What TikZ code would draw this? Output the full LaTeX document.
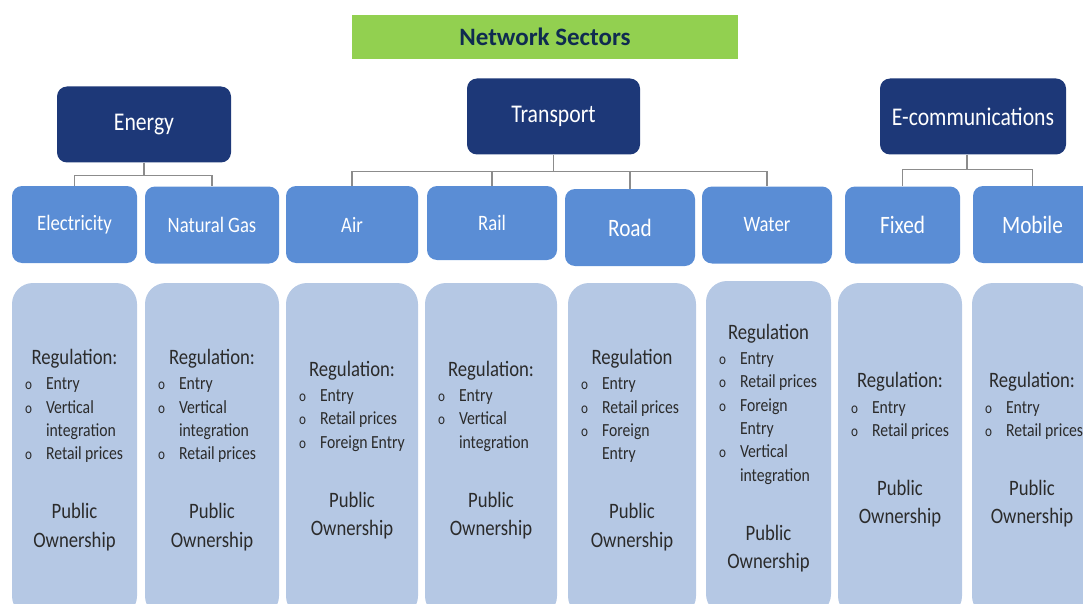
\documentclass[tikz,border=0pt]{standalone}
\usepackage{fontspec}
\usepackage{xcolor}
\setmainfont{Carlito}
\newfontfamily\tallfont[FakeStretch=0.85]{Carlito}
\usetikzlibrary{calc}
\definecolor{navy}{HTML}{1D3878}
\definecolor{midblue}{HTML}{5A8DD5}
\definecolor{paleblue}{HTML}{B5C8E4}
\definecolor{leafgreen}{HTML}{92D050}
\definecolor{linkgray}{HTML}{8C8C8C}
\definecolor{inkgray}{HTML}{2B2B2B}
\definecolor{titleink}{HTML}{0F2B50}
\tikzstyle{banner}=[fill=leafgreen,minimum width=386pt,minimum height=44pt,text=titleink,font=\fontsize{25}{30}\selectfont\bfseries]
\tikzstyle{sector}=[fill=navy,rounded corners=10pt,minimum height=76pt,text=white,font=\tallfont\fontsize{25.5}{30}\selectfont]
\tikzstyle{branch}=[fill=midblue,rounded corners=10pt,minimum height=77pt,text=white,font=\tallfont\fontsize{22}{26}\selectfont]
\tikzstyle{detail}=[fill=paleblue,rounded corners=21pt,minimum height=334pt,inner sep=0pt,align=left,text=inkgray]
\tikzstyle{link}=[draw=linkgray,line width=1.4pt]
\newcommand{\reghead}[1]{{\tallfont\fontsize{22}{26}\selectfont\centering #1\par}\vspace{2pt}}
\newcommand{\regitem}[1]{{\tallfont\fontsize{18.5}{23.3}\selectfont\noindent\makebox[26pt][l]{\hspace{5pt}{\fontsize{15.5}{15.5}\selectfont o}}#1\par}}
\newcommand{\regmore}[1]{{\tallfont\fontsize{18.5}{23.3}\selectfont\noindent\hspace*{26pt}#1\par}}
\newcommand{\pubown}{\vspace{30.5pt}{\tallfont\fontsize{22}{28.5}\selectfont\centering Public\\Ownership\par}}

\begin{document}
\begin{tikzpicture}[x=1pt,y=-1pt]
    \useasboundingbox (0,0) rectangle (1083,604);
    \clip (0,0) rectangle (1083,604);
    \node [banner] (title) at (545,37) {Network Sectors};
    % sectors
    \node [sector,minimum width=174pt] (energy)    at (144,124.5) {Energy};
    \node [sector,minimum width=173pt] (transport) at (553.5,116.5) {Transport};
    \node [sector,minimum width=186pt] (ecomm)     at (973,116.5) {E-communications};
    % branches
    \node [branch,minimum width=125pt] (elec)   at (74.5,224.5) {Electricity};
    \node [branch,minimum width=134pt] (gas)    at (212,225) {Natural Gas};
    \node [branch,minimum width=132pt] (air)    at (352,224.5) {Air};
    \node [branch,minimum width=130pt,minimum height=74pt] (rail) at (492,223) {Rail};
    \node [branch,minimum width=130pt,font=\tallfont\fontsize{25}{30}\selectfont] (road) at (630,227.5) {Road};
    \node [branch,minimum width=130pt] (water)  at (767,225) {Water};
    \node [branch,minimum width=115pt,font=\tallfont\fontsize{25}{30}\selectfont] (fixed)  at (902.5,225) {Fixed};
    \node [branch,minimum width=119pt,font=\tallfont\fontsize{25}{30}\selectfont] (mobile) at (1032.5,224.5) {Mobile};
    % details
    \node [detail,minimum width=125pt,text width=109pt] (elecreg) at (74.5,450) {%
        \reghead{Regulation:}\regitem{Entry}\regitem{Vertical}\regmore{integration}\regitem{Retail~prices}\pubown};
    \node [detail,minimum width=134pt,text width=118pt] (gasreg) at (212,450) {%
        \reghead{Regulation:}\regitem{Entry}\regitem{Vertical}\regmore{integration}\regitem{Retail~prices}\pubown};
    \node [detail,minimum width=132pt,text width=116pt] (airreg) at (352,450) {%
        \reghead{Regulation:}\regitem{Entry}\regitem{Retail~prices}\regitem{Foreign~Entry}\pubown};
    \node [detail,minimum width=132pt,text width=116pt] (railreg) at (491,450) {%
        \reghead{Regulation:}\regitem{Entry}\regitem{Vertical}\regmore{integration}\pubown};
    \node [detail,minimum width=128pt,text width=112pt] (roadreg) at (632,450) {%
        \reghead{Regulation}\regitem{Entry}\regitem{Retail~prices}\regitem{Foreign}\regmore{Entry}\pubown};
    \node [detail,minimum width=125pt,text width=109pt] (waterreg) at (768.5,448) {%
        \reghead{Regulation}\regitem{Entry}\regitem{Retail~prices}\regitem{Foreign}\regmore{Entry}\regitem{Vertical}\regmore{integration}\pubown};
    \node [detail,minimum width=124pt,text width=108pt] (fixedreg) at (900,450) {%
        \reghead{Regulation:}\regitem{Entry}\regitem{Retail~prices}\pubown};
    \node [detail,minimum width=120pt,text width=104pt] (mobilereg) at (1032,450) {%
        \reghead{Regulation:}\regitem{Entry}\regitem{Retail~prices}\pubown};
    % links
    \draw [link] (energy.south) -- ++(0,13) coordinate (ejoin) -| (elec.north);
    \draw [link] (ejoin) -| (gas.north);
    \draw [link] (transport.south) -- ++(0,17) coordinate (tjoin) -| (air.north);
    \draw [link] (tjoin) -| (rail.north);
    \draw [link] (tjoin) -| (road.north);
    \draw [link] (tjoin) -| (water.north);
    \draw [link] ([xshift=-6pt]ecomm.south) -- ++(0,15) coordinate (cjoin) -| (fixed.north);
    \draw [link] (cjoin) -| (mobile.north);
\end{tikzpicture}
\end{document}
